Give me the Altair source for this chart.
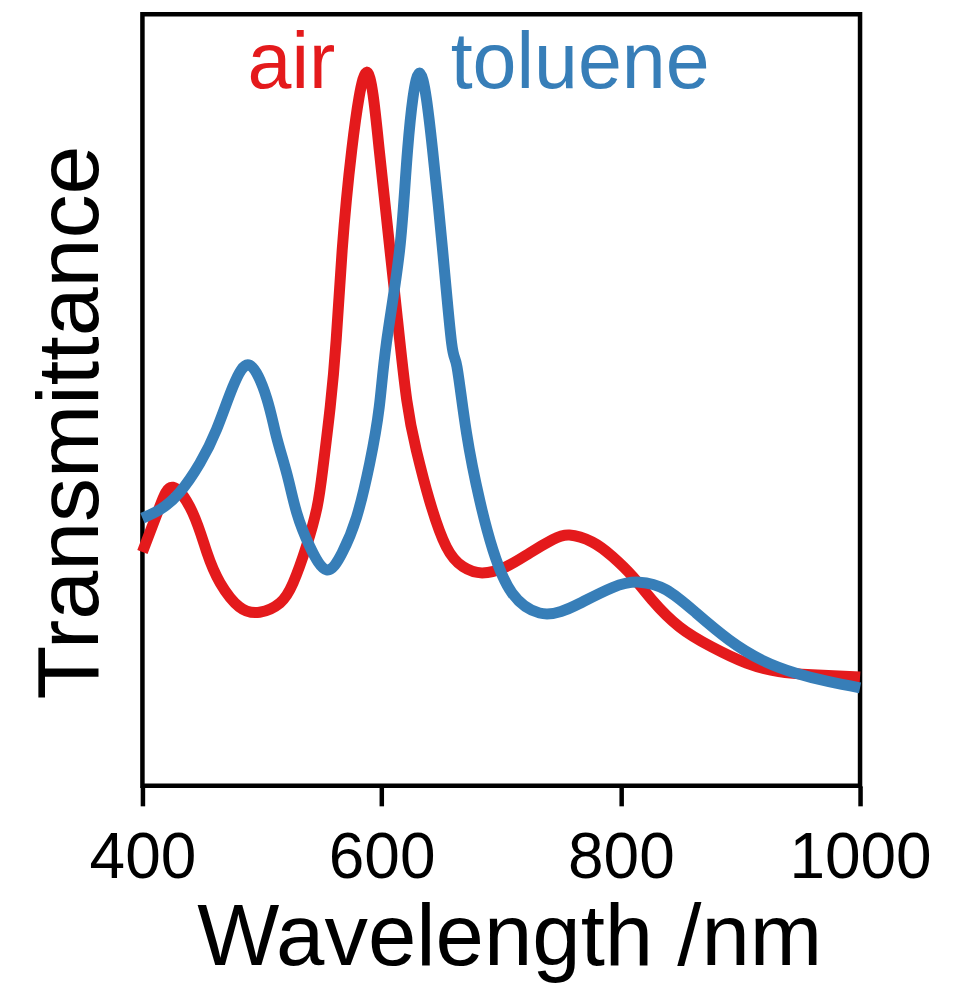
import altair as alt
import pandas as pd

# Wavelength (nm) and transmittance (arbitrary units)
air_wl = [400, 414, 425.5, 442, 454, 465, 481, 498, 515, 526, 537, 546, 551, 557, 562, 567,
          575, 587.5, 598, 607, 613, 621, 629, 640, 654, 668, 684, 704, 724, 743, 757, 776,
          793, 810, 826, 849, 876, 905, 932, 960, 1000]
air_t = [0.303, 0.36, 0.387, 0.354, 0.302, 0.263, 0.232, 0.225, 0.237, 0.263, 0.310, 0.361,
         0.413, 0.491, 0.578, 0.694, 0.824, 0.925, 0.824, 0.694, 0.608, 0.500, 0.435, 0.370,
         0.310, 0.284, 0.276, 0.284, 0.302, 0.319, 0.325, 0.316, 0.297, 0.271, 0.241, 0.206,
         0.180, 0.159, 0.148, 0.144, 0.141]

tol_wl = [400, 414.6, 431, 448, 462, 475.6, 489.8, 504, 512, 521, 529, 540, 554, 567, 579,
          590, 598, 604, 615, 621.7, 631.7, 642.6, 651, 658.5, 663, 671, 682, 693, 709, 732,
          750, 765, 793, 815.4, 838, 863, 890.6, 918, 946.5, 974, 1000]
tol_t = [0.347, 0.358, 0.380, 0.418, 0.462, 0.517, 0.545, 0.502, 0.453, 0.403, 0.354, 0.310,
         0.280, 0.302, 0.348, 0.418, 0.491, 0.574, 0.694, 0.824, 0.924, 0.824, 0.694, 0.574,
         0.543, 0.457, 0.370, 0.306, 0.250, 0.224, 0.226, 0.236, 0.257, 0.264, 0.254, 0.224,
         0.189, 0.163, 0.146, 0.135, 0.127]

series_names = ["air", "toluene"]
series_colors = ["#E41A1C", "#377EB8"]
label_wl = [524.5, 766]
label_t = [0.904, 0.904]
x_ticks = [400, 600, 800, 1000]

df = pd.concat([
    pd.DataFrame({"wl": air_wl, "t": air_t, "series": "air"}),
    pd.DataFrame({"wl": tol_wl, "t": tol_t, "series": "toluene"}),
])
labels = pd.DataFrame({"wl": label_wl, "t": label_t, "series": series_names})

color = alt.Color("series:N", scale=alt.Scale(domain=series_names, range=series_colors), legend=None)

x = alt.X("wl:Q", scale=alt.Scale(domain=[400, 1000], nice=False, zero=False),
          axis=alt.Axis(title="Wavelength /nm", values=x_ticks, format="d", domain=False, grid=False,
                        tickSize=20, tickWidth=4.5, tickColor="black",
                        labelFontSize=64, labelColor="black", labelPadding=72,
                        labelBaseline="alphabetic", labelFlush=False,
                        titleFontSize=87, titleFontWeight="normal", titleColor="black",
                        titleX=367, titleY=179, titleBaseline="alphabetic", titleAlign="center"))
y = alt.Y("t:Q", scale=alt.Scale(domain=[0, 1], nice=False, zero=False),
          axis=alt.Axis(title="Transmittance", domain=False, grid=False, ticks=False, labels=False,
                        titleFontSize=88, titleFontWeight="normal", titleColor="black",
                        titleAngle=-90, titleX=-45, titleY=408, titleBaseline="alphabetic",
                        titleAlign="center"))

lines = alt.Chart(df).mark_line(strokeWidth=11, interpolate="natural").encode(
    x=x, y=y, color=color, detail="series:N")

text = alt.Chart(labels).mark_text(fontSize=79, align="center", baseline="alphabetic",
                                   font="Liberation Sans").encode(
    x="wl:Q", y="t:Q", text="series:N", color=color)

chart = alt.layer(lines, text).properties(
    width=718, height=772,
    autosize=alt.AutoSizeParams(type="none"),
    padding={"left": 134.5, "top": 6, "right": 90, "bottom": 200},
).configure(font="Liberation Sans").configure_view(
    stroke="black", strokeWidth=4.5
)

chart.save("out.html", embed_options={"renderer": "svg", "actions": False})
